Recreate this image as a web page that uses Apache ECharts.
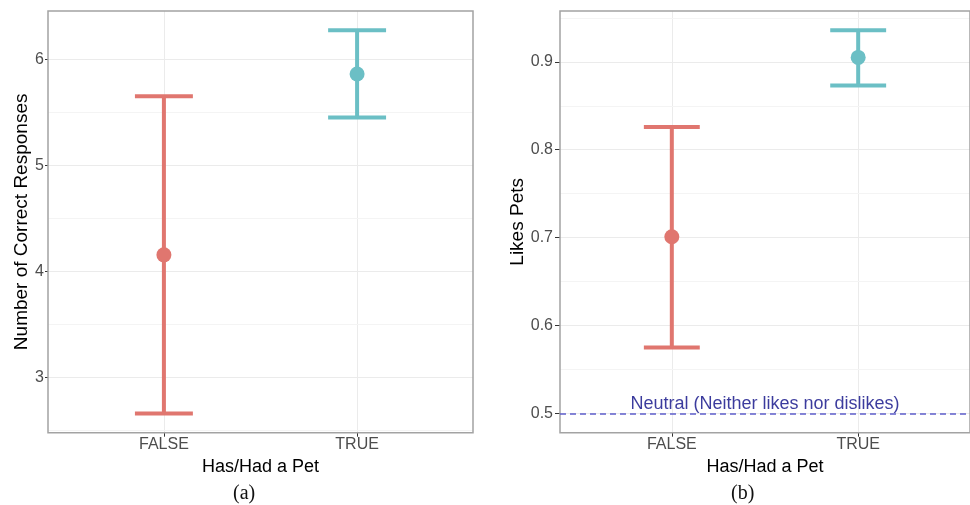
<!DOCTYPE html>
<html>
<head>
<meta charset="utf-8">
<script src="https://cdn.jsdelivr.net/npm/echarts@6/dist/echarts.min.js"></script>
<style>
html,body{margin:0;padding:0;background:#fff;}
#chart{width:970px;height:505px;}
</style>
</head>
<body>
<div id="chart"></div>
<script>
// ---- data ----
var categories = ['FALSE', 'TRUE'];
var correctMean  = [4.154, 5.861];
var correctLower = [2.657, 5.449];
var correctUpper = [5.651, 6.274];
var likesMean  = [0.701, 0.905];
var likesLower = [0.575, 0.873];
var likesUpper = [0.826, 0.936];
var neutralValue = 0.5;
var neutralText = 'Neutral (Neither likes nor dislikes)';
var yTicksA = [3, 4, 5, 6];
var yMinorA = [2.5, 3.5, 4.5, 5.5];
var yTicksB = [0.5, 0.6, 0.7, 0.8, 0.9];
var yMinorB = [0.55, 0.65, 0.75, 0.85, 0.95];
var xTitle = 'Has/Had a Pet';
var yTitleA = 'Number of Correct Responses';
var yTitleB = 'Likes Pets';
var captions = ['(a)', '(b)'];
var groupColors = ['#E0766F', '#6BBFC5'];

// ---- helpers ----
function expand(lo, hi) { var r = hi - lo; return [lo - 0.05 * r, hi + 0.05 * r]; }
var rangeA = expand(Math.min.apply(null, correctLower), Math.max.apply(null, correctUpper));
var rangeB = expand(Math.min.apply(null, likesLower.concat([neutralValue])), Math.max.apply(null, likesUpper));
var catPos = categories.map(function (c, i) { return i + 1; });

function errData(mean, lo, hi) {
  return categories.map(function (c, i) { return [catPos[i], mean[i], lo[i], hi[i], i]; });
}
function renderErr(params, api) {
  var x = api.value(0);
  var m = api.coord([x, api.value(1)]);
  var l = api.coord([x, api.value(2)]);
  var h = api.coord([x, api.value(3)]);
  var half = api.size([0.3, 0])[0] / 2;
  var col = groupColors[api.value(4)];
  var ls = { stroke: col, lineWidth: 4, lineCap: 'butt' };
  return {
    type: 'group',
    children: [
      { type: 'line', shape: { x1: m[0], y1: l[1], x2: m[0], y2: h[1] }, style: ls },
      { type: 'line', shape: { x1: m[0] - half, y1: l[1], x2: m[0] + half, y2: l[1] }, style: ls },
      { type: 'line', shape: { x1: m[0] - half, y1: h[1], x2: m[0] + half, y2: h[1] }, style: ls },
      { type: 'circle', shape: { cx: m[0], cy: m[1], r: 7.5 }, style: { fill: col } }
    ]
  };
}

var font = 'Liberation Sans, Arial, Helvetica, sans-serif';
function xAxisCfg(gi) {
  return {
    type: 'value', gridIndex: gi, min: 0.4, max: 2.6,
    name: xTitle, nameLocation: 'middle', nameGap: 20,
    nameTextStyle: { color: '#000', fontSize: 18, fontFamily: font },
    axisLine: { show: false },
    axisTick: { show: true, customValues: catPos, length: 4, lineStyle: { color: '#333', width: 1 } },
    axisLabel: { customValues: catPos, margin: 4, color: '#4d4d4d', fontSize: 16, fontFamily: font,
      formatter: function (v) { return categories[Math.round(v) - 1] || ''; } },
    splitLine: { show: true, lineStyle: { color: '#ebebeb', width: 1 } }
  };
}
function yMajorCfg(gi, rng, ticks, name, gap, tickLen, margin) {
  return {
    type: 'value', gridIndex: gi, min: rng[0], max: rng[1],
    name: name, nameLocation: 'middle', nameGap: gap, nameRotate: 90,
    nameTextStyle: { color: '#000', fontSize: 19, fontFamily: font },
    axisLine: { show: false },
    axisTick: { show: true, customValues: ticks, length: tickLen, lineStyle: { color: '#333', width: 1 } },
    axisLabel: { customValues: ticks, margin: margin, color: '#4d4d4d', fontSize: 16, fontFamily: font,
      formatter: function (v) { return String(Math.round(v * 10) / 10); } },
    splitLine: { show: true, lineStyle: { color: '#ebebeb', width: 1 } },
    z: 2
  };
}
function yMinorCfg(gi, rng, ticks) {
  return {
    type: 'value', gridIndex: gi, min: rng[0], max: rng[1],
    axisLine: { show: false },
    axisTick: { show: false, customValues: ticks },
    axisLabel: { show: false, customValues: ticks },
    splitLine: { show: true, lineStyle: { color: '#f4f4f4', width: 1 } },
    z: 1
  };
}

var option = {
  backgroundColor: '#ffffff',
  animation: false,
  grid: [
    { left: 48, top: 11, width: 425, height: 421.7, show: true, borderColor: '#a3a3a3', borderWidth: 1.5, backgroundColor: 'transparent', z: 3 },
    { left: 560, top: 11, width: 411.6, height: 421.7, show: true, borderColor: '#a3a3a3', borderWidth: 1.5, backgroundColor: 'transparent', z: 3 }
  ],
  xAxis: [xAxisCfg(0), xAxisCfg(1)],
  yAxis: [
    yMajorCfg(0, rangeA, yTicksA, yTitleA, 12, 3, 4),
    yMinorCfg(0, rangeA, yMinorA),
    yMajorCfg(1, rangeB, yTicksB, yTitleB, 29, 5, 7),
    yMinorCfg(1, rangeB, yMinorB)
  ],
  series: [
    {
      type: 'line', xAxisIndex: 1, yAxisIndex: 2, data: [], silent: true, z: 4,
      markLine: {
        silent: true, symbol: ['none', 'none'], label: { show: false },
        lineStyle: { color: '#5f5fcc', width: 1.5, type: [6, 4] },
        data: [{ yAxis: neutralValue }]
      }
    },
    {
      type: 'custom', xAxisIndex: 0, yAxisIndex: 0, renderItem: renderErr,
      data: errData(correctMean, correctLower, correctUpper), z: 5, silent: true
    },
    {
      type: 'custom', xAxisIndex: 1, yAxisIndex: 2, renderItem: renderErr,
      data: errData(likesMean, likesLower, likesUpper), z: 5, silent: true
    },
    {
      type: 'scatter', xAxisIndex: 1, yAxisIndex: 2, symbolSize: 0, silent: true, z: 6,
      data: [[(catPos[0] + catPos[1]) / 2, neutralValue]],
      label: { show: true, position: 'top', distance: 1, formatter: neutralText,
        color: '#0a0a85', fontSize: 18, fontFamily: font }
    }
  ],
  graphic: [
    { type: 'text', left: 245 - 12, top: 484, style: { text: captions[0], fontSize: 20, fontFamily: 'Liberation Serif, DejaVu Serif, serif', fill: '#111' } },
    { type: 'text', left: 743 - 12, top: 484, style: { text: captions[1], fontSize: 20, fontFamily: 'Liberation Serif, DejaVu Serif, serif', fill: '#111' } }
  ]
};

var chart = echarts.init(document.getElementById('chart'), null, { renderer: 'canvas' });
chart.setOption(option);
</script>
</body>
</html>
